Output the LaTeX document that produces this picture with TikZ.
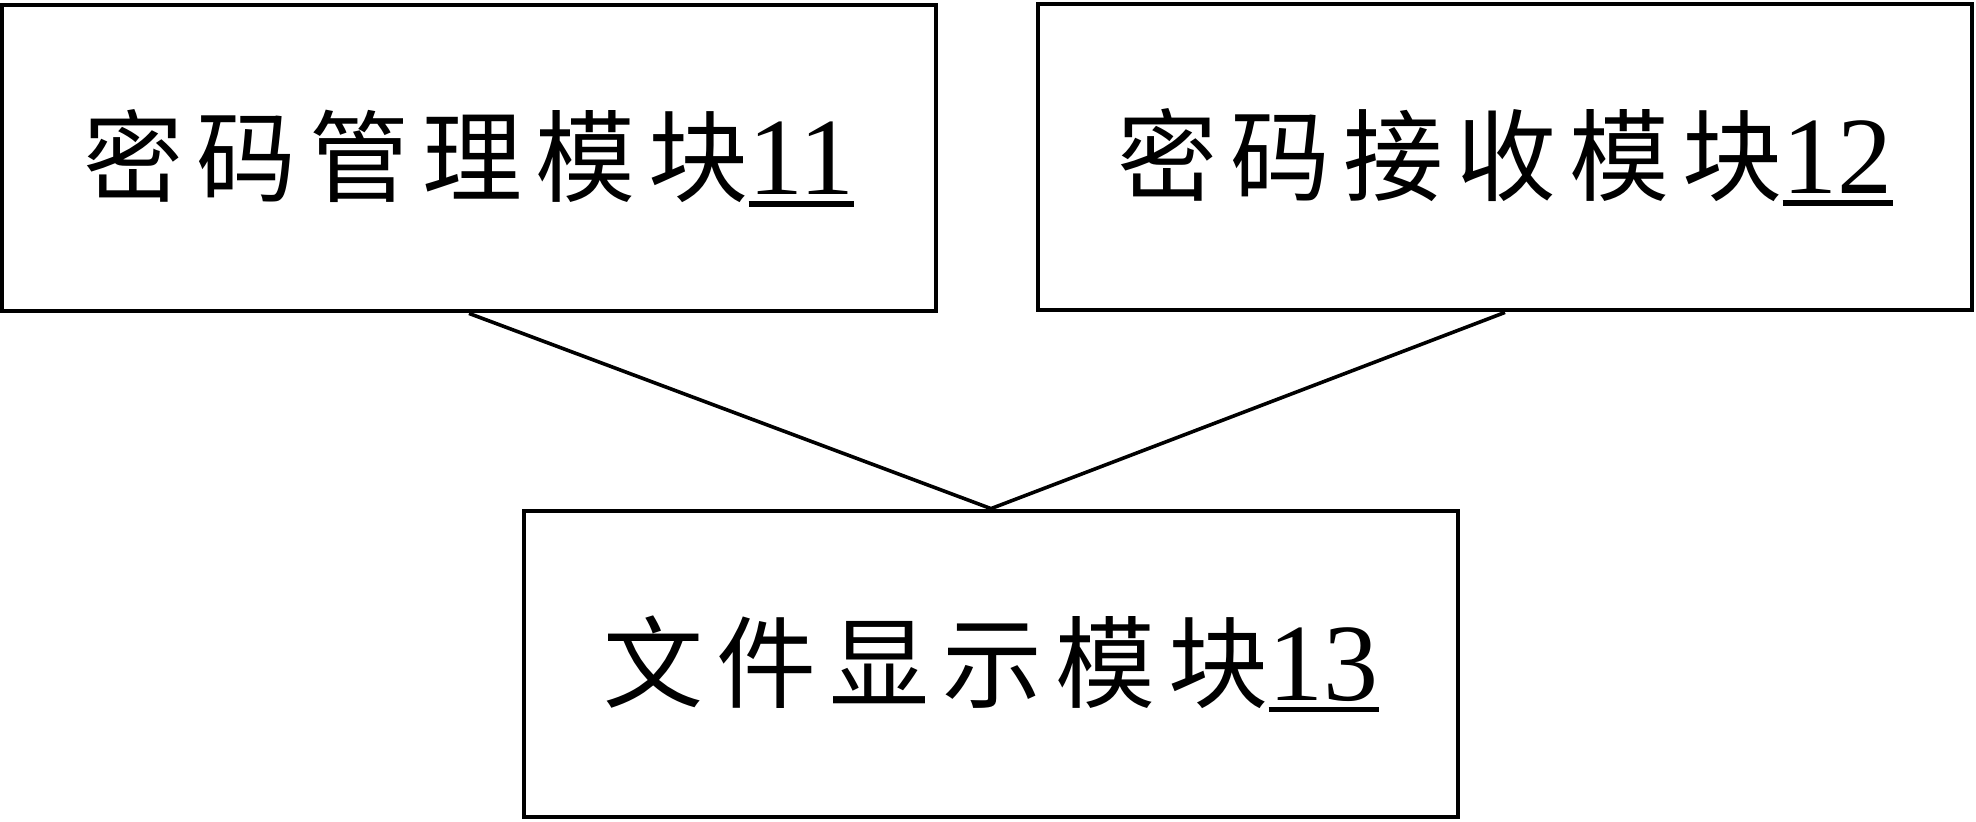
\documentclass[tikz,border=0pt]{standalone}
\usepackage{fontspec}
\setmainfont{Liberation Serif}
\newfontfamily\numfont{Liberation Serif}
\newfontfamily\cjk[LetterSpace=13]{Noto Sans CJK SC}
\newsavebox\numbox
\newcommand\thickul[1]{\sbox\numbox{\fontsize{55}{66}\selectfont\numfont #1}\rlap{\rule[-6pt]{\wd\numbox}{2.6pt}}\usebox\numbox}
\newcommand\modlabel[2]{{\fontsize{50}{60}\selectfont\cjk #1}\thickul{#2}}
\begin{document}
\begin{tikzpicture}[x=0.5pt,y=-0.5pt,
  modbox/.style={draw,line width=2.4pt,inner sep=0pt,minimum height=153pt,minimum width=467pt},
  link/.style={line width=1.8pt}]
\useasboundingbox (0,0) rectangle (1976,821);
\node[modbox] (m11) at (469,158) {\modlabel{密码管理模块}{11}};
\node[modbox] (m12) at (1505,157) {\modlabel{密码接收模块}{12}};
\node[modbox] (m13) at (991,664) {\modlabel{文件显示模块}{13}};
\draw[link] (m11.south) -- (m13.north);
\draw[link] (m12.south) -- (m13.north);
\end{tikzpicture}
\end{document}
